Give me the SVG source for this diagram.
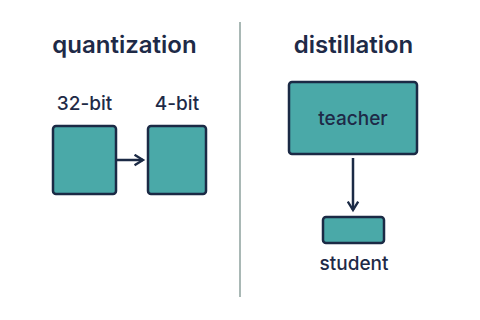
<svg xmlns="http://www.w3.org/2000/svg" width="480" height="320" viewBox="0 0 480 320">
<defs>
<style>
.box{fill:#4aa9a8;stroke:#1b2a45;stroke-width:2.5}
.title{font-family:Inter,"Noto Sans",sans-serif;font-weight:600;font-size:24px;fill:#1e2a47}
.lbl{font-family:Inter,"Noto Sans",sans-serif;font-weight:500;font-size:19px;fill:#1e2a47}
.conn{stroke:#1b2a45;stroke-width:2.5;fill:none}
</style>
<marker id="ah" viewBox="0 0 10 10" refX="8" refY="5" markerWidth="5.2" markerHeight="5.2" orient="auto" markerUnits="strokeWidth">
<path d="M1.5,1 L8,5 L1.5,9" fill="none" stroke="#1b2a45" stroke-width="1.8"/>
</marker>
</defs>
<rect width="480" height="320" fill="#ffffff"/>
<line x1="240" y1="22" x2="240" y2="297" stroke="#a9b8b5" stroke-width="2"/>
<text class="title" x="124.5" y="53" text-anchor="middle">quantization</text>
<text class="title" x="353.5" y="53" text-anchor="middle">distillation</text>
<g id="bit32">
<rect class="box" x="53" y="126" width="63" height="68" rx="3"/>
<text class="lbl" x="84.5" y="110" text-anchor="middle">32-bit</text>
</g>
<g id="bit4">
<rect class="box" x="148" y="126" width="58" height="68" rx="3"/>
<text class="lbl" x="177" y="110" text-anchor="middle">4-bit</text>
</g>
<g id="teacher">
<rect class="box" x="289" y="82" width="128" height="72" rx="3"/>
<text class="lbl" x="353" y="125" text-anchor="middle">teacher</text>
</g>
<g id="student">
<rect class="box" x="323" y="217" width="61" height="26" rx="3"/>
<text class="lbl" x="354" y="270" text-anchor="middle">student</text>
</g>
<g id="connectors">
<line class="conn" x1="117" y1="160" x2="143" y2="160" marker-end="url(#ah)"/>
<line class="conn" x1="353" y1="158" x2="353" y2="210" marker-end="url(#ah)"/>
</g>
</svg>
